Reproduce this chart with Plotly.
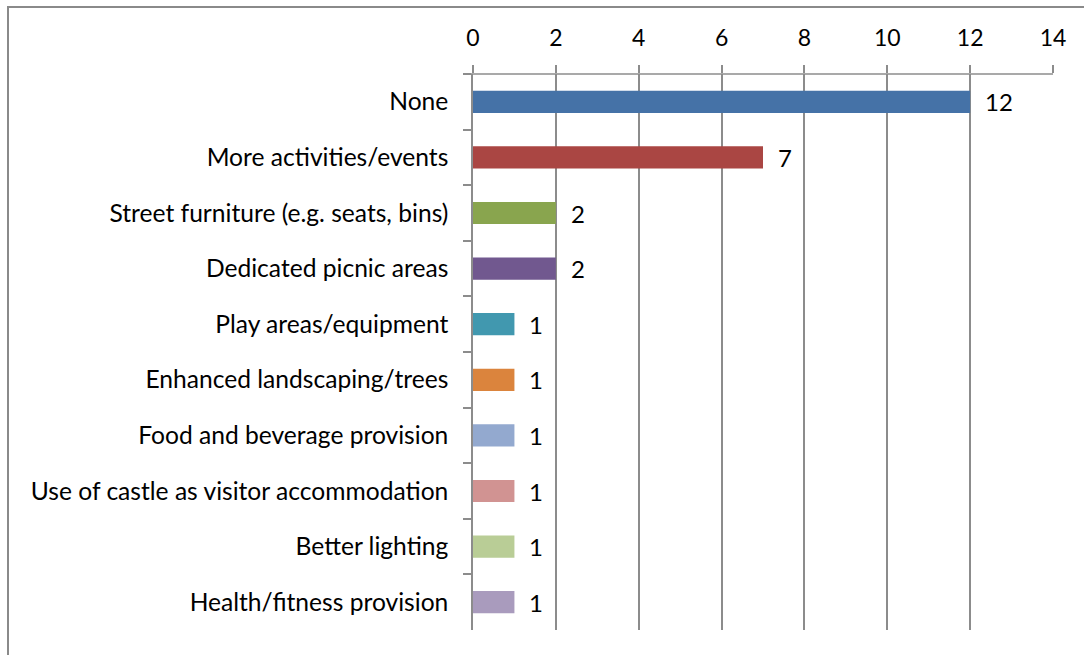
import plotly.graph_objects as go

# Survey responses: suggested improvements
categories = [
    "None",
    "More activities/events",
    "Street furniture (e.g. seats, bins)",
    "Dedicated picnic areas",
    "Play areas/equipment",
    "Enhanced landscaping/trees",
    "Food and beverage provision",
    "Use of castle as visitor accommodation",
    "Better lighting",
    "Health/fitness provision",
]
counts = [12, 7, 2, 2, 1, 1, 1, 1, 1, 1]
bar_colors = [
    "#4572A7", "#AA4643", "#89A54E", "#71588F", "#4198AF",
    "#DB843D", "#93A9CF", "#D19392", "#B9CD96", "#A99BBD",
]
x_ticks = [0, 2, 4, 6, 8, 10, 12, 14]

FONT = "Lato"
FSIZE = 24.6
GRID = "#8c8c8c"

# plot-area geometry in pixels
W, H = 1084, 655
L, R, T, B = 473, 31, 74, 25
pw, ph = W - L - R, H - T - B

fig = go.Figure()
fig.add_trace(go.Bar(
    y=categories,
    x=counts,
    orientation="h",
    marker=dict(color=bar_colors, line=dict(width=0)),
    width=0.4,
    hoverinfo="x+y",
))

# value labels beside each bar
for cat, val in zip(categories, counts):
    fig.add_annotation(
        x=val, y=cat, xref="x", yref="y",
        text=str(val), showarrow=False,
        xanchor="left", xshift=13,
        font=dict(family=FONT, size=24, color="#000000"),
    )

# outer chart frame
fig.add_shape(
    type="rect", xref="paper", yref="paper",
    x0=(8 - L) / pw, x1=(W + 10 - L) / pw,
    y0=-(B + 10) / ph, y1=1 + (T - 7) / ph,
    line=dict(color="#8a8a8a", width=2), layer="above",
)
# top axis line extending over the category tick marks
fig.add_shape(
    type="line", xref="paper", yref="paper",
    x0=-8 / pw, x1=1, y0=1, y1=1,
    line=dict(color=GRID, width=1.5),
)

fig.update_layout(
    width=W, height=H,
    margin=dict(l=L, r=R, t=T, b=B, pad=0),
    paper_bgcolor="white",
    plot_bgcolor="white",
    showlegend=False,
    bargap=0.6,
    font=dict(family=FONT, size=FSIZE, color="#000000"),
    xaxis=dict(
        side="top",
        range=[0, 14],
        tickvals=x_ticks,
        ticktext=[str(t) for t in x_ticks],
        showgrid=True, gridcolor=GRID, gridwidth=1.5,
        zeroline=False,
        showline=False,
        ticks="outside", ticklen=8, tickcolor=GRID, tickwidth=1.5,
        ticklabelstandoff=10,
        tickfont=dict(family=FONT, size=23, color="#000000"),
        fixedrange=True,
    ),
    yaxis=dict(
        categoryorder="array",
        categoryarray=categories,
        autorange="reversed",
        showline=True, linecolor=GRID, linewidth=1.5,
        showgrid=False, zeroline=False,
        ticks="outside", tickson="boundaries", ticklen=8,
        tickcolor=GRID, tickwidth=1.5,
        ticklabelstandoff=18,
        tickfont=dict(family=FONT, size=FSIZE, color="#000000"),
        fixedrange=True,
    ),
)

fig.write_html("out.html")
